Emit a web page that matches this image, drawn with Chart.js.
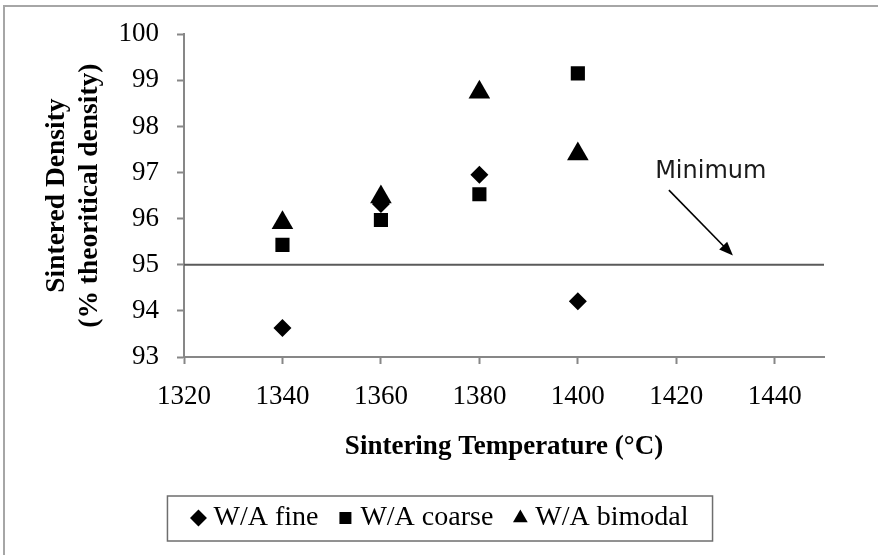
<!DOCTYPE html>
<html>
<head>
<meta charset="utf-8">
<script src="https://cdn.jsdelivr.net/npm/chart.js@4.4.0/dist/chart.umd.min.js"></script>
<style>
    html, body { margin: 0; padding: 0; background: #fff; }
    #wrap { position: relative; width: 878px; height: 555px; overflow: hidden; }
    #frame { position: absolute; left: 3px; top: 5px; width: 900px; height: 600px; border: 2px solid #a6a6a6; }
    #chart { position: absolute; left: 0; top: 0; }
</style>
</head>
<body>
<div id="wrap">
    <div id="frame"></div>
    <canvas id="chart" width="878" height="555"></canvas>
</div>
<script>
'use strict';
// sintering temperatures (°C)
var temps = [1340, 1360, 1380, 1400];
// sintered density (% theoritical density)
var fine = [93.63, 96.32, 96.95, 94.21];
var coarse = [95.43, 95.97, 96.53, 99.15];
var bimodal = [95.91, 96.47, 98.74, 97.40];
// minimum density line
var minDensity = 95;
var xRange = [1320, 1450];
var xTicks = [1320, 1340, 1360, 1380, 1400, 1420, 1440];
var yTicks = [93, 94, 95, 96, 97, 98, 99, 100];
var seriesNames = ['W/A fine', 'W/A coarse', 'W/A bimodal'];
// "Minimum" note and its arrow, in data units
var noteText = 'Minimum';
var noteAt = [1427, 96.88];
var arrowFrom = [1418.5, 96.62];
var arrowTo = [1431.5, 95.2];

function toPoints(ys) {
    return temps.map(function (t, i) { return { x: t, y: ys[i] }; });
}

var axisGray = '#878787';

var noteArrow = {
    id: 'noteArrow',
    afterDatasetsDraw: function (chart) {
        var ctx = chart.ctx, xs = chart.scales.x, ys = chart.scales.y;
        var x0 = xs.getPixelForValue(arrowFrom[0]), y0 = ys.getPixelForValue(arrowFrom[1]);
        var x1 = xs.getPixelForValue(arrowTo[0]), y1 = ys.getPixelForValue(arrowTo[1]);
        var a = Math.atan2(y1 - y0, x1 - x0), head = 15;
        ctx.save();
        ctx.strokeStyle = '#000';
        ctx.fillStyle = '#000';
        ctx.lineWidth = 1.6;
        ctx.beginPath();
        ctx.moveTo(x0, y0);
        ctx.lineTo(x1 - Math.cos(a) * head * 0.8, y1 - Math.sin(a) * head * 0.8);
        ctx.stroke();
        ctx.beginPath();
        ctx.moveTo(x1, y1);
        ctx.lineTo(x1 - head * Math.cos(a - 0.38), y1 - head * Math.sin(a - 0.38));
        ctx.lineTo(x1 - head * Math.cos(a + 0.38), y1 - head * Math.sin(a + 0.38));
        ctx.closePath();
        ctx.fill();
        ctx.font = '24px "DejaVu Sans"';
        ctx.textAlign = 'center';
        ctx.textBaseline = 'alphabetic';
        ctx.fillStyle = '#1a1a1a';
        ctx.fillText(noteText, xs.getPixelForValue(noteAt[0]), ys.getPixelForValue(noteAt[1]));
        ctx.restore();
    }
};

// box round the legend like the original
var legendBox = {
    id: 'legendBox',
    afterDraw: function (chart) {
        var boxes = chart.legend.legendHitBoxes;
        if (!boxes || !boxes.length) return;
        var last = boxes[boxes.length - 1];
        var left = boxes[0].left - 30, right = last.left + last.width + 24;
        var top = boxes[0].top - 8, bottom = boxes[0].top + boxes[0].height + 9;
        var ctx = chart.ctx;
        ctx.save();
        ctx.strokeStyle = '#6e6e6e';
        ctx.lineWidth = 1.5;
        ctx.strokeRect(left, top, right - left, bottom - top);
        ctx.restore();
    }
};

Chart.defaults.font.family = '"Liberation Serif", "Times New Roman", serif';
Chart.defaults.color = '#000';

var plainTick = function (v) { return String(v); };

var ctx = document.getElementById('chart');
var myChart = new Chart(ctx, {
    type: 'scatter',
    data: {
        datasets: [
            { label: seriesNames[0], data: toPoints(fine), pointStyle: 'rectRot', pointRadius: 9, backgroundColor: '#000', borderColor: '#000', borderWidth: 0 },
            { label: seriesNames[1], data: toPoints(coarse), pointStyle: 'rect', pointRadius: 10, backgroundColor: '#000', borderColor: '#000', borderWidth: 0 },
            { label: seriesNames[2], data: toPoints(bimodal), pointStyle: 'triangle', pointRadius: 12.5, backgroundColor: '#000', borderColor: '#000', borderWidth: 0 },
            {
                label: 'Minimum', type: 'line',
                data: [{ x: xRange[0], y: minDensity }, { x: xRange[1], y: minDensity }],
                borderColor: '#5a5a5a', borderWidth: 2, pointRadius: 0, showLine: true
            }
        ]
    },
    options: {
        responsive: false,
        animation: false,
        layout: { padding: { left: 8, top: 34, right: 0, bottom: 13 } },
        plugins: {
            tooltip: { enabled: false },
            legend: {
                position: 'bottom',
                labels: {
                    usePointStyle: true,
                    boxHeight: 12,
                    boxWidth: 2,
                    padding: 26,
                    font: { size: 28 },
                    color: '#000',
                    filter: function (item) { return item.datasetIndex < 3; }
                }
            }
        },
        scales: {
            x: {
                type: 'linear',
                min: xRange[0],
                max: xRange[1],
                afterBuildTicks: function (s) { s.ticks = xTicks.map(function (v) { return { value: v }; }); },
                afterFit: function (s) { s.height = 121; },
                ticks: { font: { size: 27 }, padding: 17, color: '#000', callback: plainTick },
                grid: { drawOnChartArea: false, drawTicks: true, tickLength: 7, tickWidth: 2, tickColor: axisGray },
                border: { color: axisGray, width: 2 },
                title: { display: true, text: 'Sintering Temperature (°C)', font: { size: 27, weight: 'bold' }, padding: { top: 0, bottom: 15 } }
            },
            y: {
                type: 'linear',
                min: 93,
                max: 100,
                afterBuildTicks: function (s) { s.ticks = yTicks.map(function (v) { return { value: v }; }); },
                afterFit: function (s) { s.width = 176; },
                ticks: { font: { size: 27 }, padding: 18, color: '#000', callback: plainTick },
                grid: { drawOnChartArea: false, drawTicks: true, tickLength: 7, tickWidth: 2, tickColor: axisGray },
                border: { color: axisGray, width: 2 },
                title: { display: true, text: ['Sintered Density', '(% theoritical density)'], font: { size: 27.5, weight: 'bold' }, padding: { top: 32.5, bottom: 0 } }
            },
            spare: {
                type: 'linear',
                position: 'right',
                display: true,
                afterFit: function (s) { s.width = 54; },
                ticks: { display: false },
                grid: { display: false },
                border: { display: false }
            }
        }
    },
    plugins: [noteArrow, legendBox]
});
</script>
</body>
</html>
